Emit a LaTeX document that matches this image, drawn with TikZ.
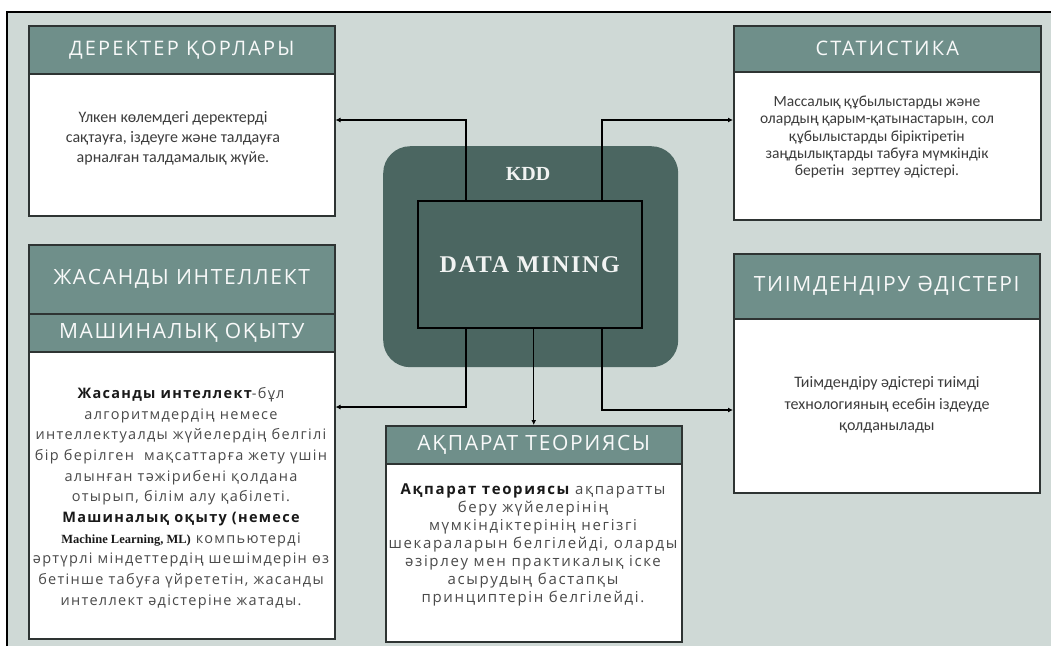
\documentclass[tikz,border=0pt]{standalone}
\usepackage{fontspec}
\usetikzlibrary{arrows.meta,calc}
\setmainfont{Open Sans}
\newfontfamily\hdrf[LetterSpace=11]{Open Sans}
\newfontfamily\hdrg[LetterSpace=8]{Open Sans}
\newfontfamily\calf{Carlito}
\newfontfamily\sprf[LetterSpace=9]{Open Sans}
\newfontfamily\sprg[LetterSpace=11]{Open Sans}
\newfontfamily\tms{Liberation Serif}
\newfontfamily\tmsls[LetterSpace=7]{Liberation Serif}
\definecolor{bgc}{HTML}{CFD9D6}
\definecolor{hdrc}{HTML}{6F8F8A}
\definecolor{kddc}{HTML}{4B6661}
\definecolor{bord}{HTML}{2E3433}
\definecolor{txt}{HTML}{3C3C3C}
\definecolor{txtl}{HTML}{4A4A4A}
\tikzset{
  hdr/.style={draw=bord, fill=hdrc, line width=1.5pt, anchor=north west, inner sep=0pt, text=white!95!hdrc},
  bodyb/.style={draw=bord, fill=white, line width=1.5pt, anchor=north west, inner sep=0pt},
  btext/.style={align=center, inner sep=0pt},
  conn/.style={draw=black, line width=1.3pt, -{Latex[length=5pt,width=5pt]}},
  hdrA/.style={font=\hdrf\fontsize{20}{22}\selectfont},
  hdrB/.style={font=\hdrg\fontsize{21}{23}\selectfont},
  calt/.style={font=\calf\fontsize{16}{20}\selectfont, text=txt},
  sprt/.style={font=\sprf\fontsize{14.5}{20.7}\selectfont, text=txtl}
}
\begin{document}
\begin{tikzpicture}[x=1pt,y=-1pt]
\useasboundingbox (0,0) rectangle (1051,646);
\fill[white] (0,0) rectangle (1051,646);
\fill[bgc] (7,12) rectangle (1051,646);
\draw[line width=1.5pt, black] (7,646) -- (7,12) -- (1051,12);

% Data stores
\node[hdr, hdrA, minimum width=306, minimum height=48] (derekH) at (28,25) {ДЕРЕКТЕР ҚОРЛАРЫ};
\node[bodyb, minimum width=306, minimum height=142] (derekB) at (28,73) {};
\node[btext, calt] (derekT) at (173,138) {Үлкен көлемдегі деректерді\\ сақтауға, іздеуге және талдауға\\ арналған талдамалық жүйе.};

% Statistics
\node[hdr, hdrA, minimum width=307, minimum height=46] (statH) at (733,25) {СТАТИСТИКА};
\node[bodyb, minimum width=307, minimum height=148] (statB) at (733,71) {};
\node[btext, font=\calf\fontsize{15.5}{17.2}\selectfont, text=txt] (statT) at (877,137) {Массалық құбылыстарды және\\ олардың қарым-қатынастарын, сол\\ құбылыстарды біріктіретін\\ заңдылықтарды табуға мүмкіндік\\ беретін\ \ зерттеу әдістері.};

% Optimisation
\node[hdr, hdrB, minimum width=306, minimum height=65] (tiimH) at (733,253) {ТИІМДЕНДІРУ ӘДІСТЕРІ};
\node[bodyb, minimum width=306, minimum height=174] (tiimB) at (733,318) {};
\node[btext, font=\calf\fontsize{16}{21.5}\selectfont, text=txt] (tiimT) at (887,405) {Тиімдендіру әдістері тиімді\\ технологияның есебін іздеуде\\ қолданылады};

% AI / ML
\node[hdr, hdrB, minimum width=306, minimum height=69] (jasH) at (28,244) {ЖАСАНДЫ ИНТЕЛЛЕКТ};
\node[hdr, hdrB, minimum width=306, minimum height=38] (mlH) at (28,313) {МАШИНАЛЫҚ ОҚЫТУ};
\node[bodyb, minimum width=306, minimum height=287] (jasB) at (28,351) {};
\node[btext, sprt] (jasT) at (181,498) {{\color{black!90}\bfseries Жасанды интеллект}-бұл\\ алгоритмдердің немесе\\ интеллектуалды жүйелердің белгілі\\ бір берілген\ \ мақсаттарға жету үшін\\ алынған тәжірибені қолдана\\ отырып, білім алу қабілеті.\\ {\color{black!90}\bfseries Машиналық оқыту (немесе}\\ {\color{black!90}\tms\bfseries\fontsize{12.5}{14}\selectfont Machine Learning, ML)} компьютерді\\ әртүрлі міндеттердің шешімдерін өз\\ бетінше табуға үйрететін, жасанды\\ интеллект әдістеріне жатады.};

% Information theory
\node[hdr, hdrB, minimum width=296, minimum height=38] (akpH) at (385,425) {АҚПАРАТ ТЕОРИЯСЫ};
\node[bodyb, minimum width=296, minimum height=178] (akpB) at (385,463) {};
\node[btext, font=\sprg\fontsize{15}{18}\selectfont, text=txtl] (akpT) at (533,545) {{\color{black!90}\bfseries Ақпарат теориясы} ақпаратты\\ беру жүйелерінің\\ мүмкіндіктерінің негізгі\\ шекараларын белгілейді, оларды\\ әзірлеу мен практикалық іске\\ асырудың бастапқы\\ принциптерін белгілейді.};

% KDD / Data mining
\node[fill=kddc, rounded corners=27pt, minimum width=295, minimum height=221, anchor=north west, inner sep=0pt] (kdd) at (383,146) {};
\node[font=\tms\bfseries\fontsize{20}{22}\selectfont, text=white!92!kddc] (kddl) at (528,174) {KDD};
\node[draw=black, fill=kddc, line width=1.5pt, minimum width=224, minimum height=127, anchor=north west, inner sep=0pt, font=\tmsls\bfseries\fontsize{24}{26}\selectfont, text=white!92!kddc] (dm) at (417,200) {DATA MINING};

% connectors
\coordinate (j1) at (466,120);
\coordinate (j2) at (602,120);
\coordinate (j3) at (466,407);
\coordinate (j4) at (602,410);
\draw[conn] (dm.north -| j1) |- (derekB.east |- j1);
\draw[conn] (dm.north -| j2) |- (statB.west |- j2);
\draw[conn] (dm.south -| j3) |- (jasB.east |- j3);
\draw[conn] (dm.south -| j4) |- (tiimB.west |- j4);
\draw[conn] (dm.south -| akpH.north) -- (akpH.north);
\end{tikzpicture}
\end{document}
